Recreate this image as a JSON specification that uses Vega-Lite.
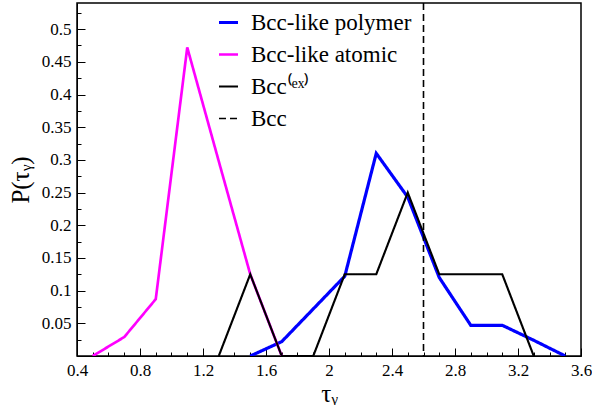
{
  "$schema": "https://vega.github.io/schema/vega-lite/v6.json",
  "width": 504,
  "height": 353,
  "autosize": "none",
  "padding": {"left": 77, "top": 3, "right": 11, "bottom": 49},
  "background": "white",
  "config": {
    "view": {"stroke": "black", "strokeWidth": 1.5},
    "font": "Liberation Serif",
    "axis": {
      "grid": false,
      "domainColor": "black",
      "tickColor": "black",
      "labelColor": "black",
      "titleColor": "black",
      "labelFont": "Liberation Serif",
      "titleFont": "Liberation Serif",
      "labelFontSize": 17,
      "titleFontSize": 25,
      "titleFontWeight": "normal"
    }
  },
  "data": {
    "values": [
      {"tau": 1.5, "p": 0.0, "series": "polymer"},
      {"tau": 1.7, "p": 0.022, "series": "polymer"},
      {"tau": 1.9, "p": 0.072, "series": "polymer"},
      {"tau": 2.1, "p": 0.122, "series": "polymer"},
      {"tau": 2.3, "p": 0.31, "series": "polymer"},
      {"tau": 2.5, "p": 0.243, "series": "polymer"},
      {"tau": 2.7, "p": 0.12, "series": "polymer"},
      {"tau": 2.9, "p": 0.047, "series": "polymer"},
      {"tau": 3.1, "p": 0.047, "series": "polymer"},
      {"tau": 3.3, "p": 0.024, "series": "polymer"},
      {"tau": 3.5, "p": 0.0, "series": "polymer"},
      {"tau": 0.5, "p": 0.0, "series": "atomic"},
      {"tau": 0.7, "p": 0.029, "series": "atomic"},
      {"tau": 0.9, "p": 0.087, "series": "atomic"},
      {"tau": 1.1, "p": 0.472, "series": "atomic"},
      {"tau": 1.3, "p": 0.298, "series": "atomic"},
      {"tau": 1.5, "p": 0.125, "series": "atomic"},
      {"tau": 1.7, "p": 0.0, "series": "atomic"},
      {"tau": 1.3, "p": 0.0, "series": "ex"},
      {"tau": 1.5, "p": 0.125, "series": "ex"},
      {"tau": 1.7, "p": 0.0, "series": "ex"},
      {"tau": 1.9, "p": 0.0, "series": "ex"},
      {"tau": 2.1, "p": 0.125, "series": "ex"},
      {"tau": 2.3, "p": 0.125, "series": "ex"},
      {"tau": 2.5, "p": 0.25, "series": "ex"},
      {"tau": 2.7, "p": 0.125, "series": "ex"},
      {"tau": 2.9, "p": 0.125, "series": "ex"},
      {"tau": 3.1, "p": 0.125, "series": "ex"},
      {"tau": 3.3, "p": 0.0, "series": "ex"}
    ]
  },
  "encoding": {
    "x": {
      "field": "tau",
      "type": "quantitative",
      "scale": {"domain": [0.4, 3.6], "nice": false, "zero": false},
      "axis": {
        "title": "τᵧ",
        "values": [0.4, 0.5, 0.6, 0.7, 0.8, 0.9, 1.0, 1.1, 1.2, 1.3, 1.4, 1.5, 1.6, 1.7, 1.8, 1.9, 2.0, 2.1, 2.2, 2.3, 2.4, 2.5, 2.6, 2.7, 2.8, 2.9, 3.0, 3.1, 3.2, 3.3, 3.4, 3.5, 3.6],
        "labelExpr": "round(datum.value * 10) % 4 == 0 ? format(datum.value, '~g') : ''",
        "tickSize": {"condition": {"test": "round(datum.value * 10) % 4 == 0", "value": -8}, "value": -4},
        "labelPadding": 14,
        "labelFlush": false,
        "titlePadding": 3
      }
    },
    "y": {
      "field": "p",
      "type": "quantitative",
      "scale": {"domain": [0, 0.54], "nice": false},
      "axis": {
        "title": "P(τᵧ)",
        "values": [0.025, 0.05, 0.075, 0.1, 0.125, 0.15, 0.175, 0.2, 0.225, 0.25, 0.275, 0.3, 0.325, 0.35, 0.375, 0.4, 0.425, 0.45, 0.475, 0.5, 0.525],
        "labelExpr": "round(datum.value * 40) % 2 == 0 ? format(datum.value, '~g') : ''",
        "tickSize": {"condition": {"test": "round(datum.value * 40) % 2 == 0", "value": -8}, "value": -4},
        "labelPadding": 14,
        "titlePadding": 8
      }
    },
    "color": {
      "field": "series",
      "type": "nominal",
      "scale": {"domain": ["polymer", "atomic", "ex", "bcc"], "range": ["#0000ff", "#ff00ff", "#000000", "#000000"]},
      "legend": {
        "title": null,
        "orient": "none",
        "legendX": 140,
        "legendY": 8,
        "symbolType": "stroke",
        "symbolSize": 361,
        "labelFont": "Liberation Serif",
        "labelFontSize": 23,
        "labelLimit": 400,
        "labelColor": "black",
        "labelOffset": 11,
        "rowPadding": 8,
        "padding": 0,
        "labelExpr": "datum.value == 'polymer' ? 'Bcc-like polymer' : datum.value == 'atomic' ? 'Bcc-like atomic' : datum.value == 'ex' ? 'Bcc⁽ᵉˣ⁾' : 'Bcc'"
      }
    },
    "strokeDash": {
      "field": "series",
      "type": "nominal",
      "scale": {"domain": ["polymer", "atomic", "ex", "bcc"], "range": [[1, 0], [1, 0], [1, 0], [7, 4]]},
      "legend": {"title": null, "labelFont": "Liberation Serif", "labelFontSize": 23, "labelLimit": 400}
    },
    "strokeWidth": {
      "field": "series",
      "type": "nominal",
      "scale": {"domain": ["polymer", "atomic", "ex", "bcc"], "range": [3.2, 1.6, 1.6, 1.6]},
      "legend": {"title": null, "labelFont": "Liberation Serif", "labelFontSize": 23, "labelLimit": 400}
    }
  },
  "layer": [
    {"mark": {"type": "line", "clip": true}},
    {
      "data": {"values": [{"tau": 2.6, "series": "bcc"}]},
      "mark": {"type": "rule"},
      "encoding": {"y": {"value": 0}, "y2": {"value": 353}}
    }
  ]
}
